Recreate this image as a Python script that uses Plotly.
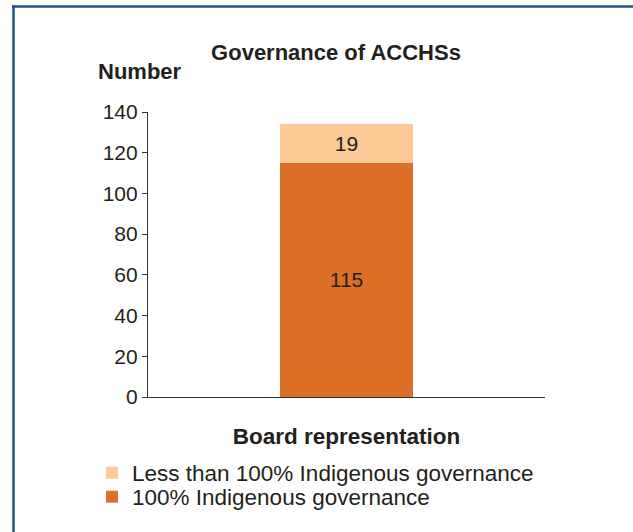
import plotly.graph_objects as go

# Governance of Aboriginal Community Controlled Health Services
category = ["Board representation"]
full_indigenous = [115]
less_than_full = [19]

series_names = ["100% Indigenous governance", "Less than 100% Indigenous governance"]
y_ticks = [0, 20, 40, 60, 80, 100, 120, 140]

DARK = "#DD7029"
LIGHT = "#FDCA97"
INK = "#231F20"
FONT = "Liberation Sans, Arial, sans-serif"

W, H = 633, 532
ML, MR, MT, MB = 148, 88, 112, 135
pw, ph = W - ML - MR, H - MT - MB


def px_x(p):
    return (p - ML) / pw


def px_y(p):
    return (H - MB - p) / ph


fig = go.Figure()
fig.add_trace(go.Bar(
    x=category, y=full_indigenous, name=series_names[0], legend="legend2",
    marker=dict(color=DARK, line=dict(width=0)),
    text=[str(v) for v in full_indigenous], textposition="inside",
    insidetextanchor="middle", textfont=dict(size=21, color=INK, family=FONT),
))
fig.add_trace(go.Bar(
    x=category, y=less_than_full, name=series_names[1], legend="legend",
    marker=dict(color=LIGHT, line=dict(width=0)),
    text=[str(v) for v in less_than_full], textposition="inside",
    insidetextanchor="middle", textfont=dict(size=21, color=INK, family=FONT),
))

legend_common = dict(x=px_x(92), xanchor="left", yanchor="middle",
                     font=dict(size=22.5, color=INK, family=FONT),
                     bgcolor="rgba(0,0,0,0)", itemclick=False,
                     itemdoubleclick=False)

fig.update_layout(
    width=W, height=H,
    margin=dict(l=ML, r=MR, t=MT, b=MB, pad=0, autoexpand=False),
    barmode="stack", bargap=0.665,
    paper_bgcolor="white", plot_bgcolor="white",
    font=dict(family=FONT, size=21, color=INK),
    title=dict(text="<b>Governance of ACCHSs</b>", x=336 / W, xanchor="center",
               y=1 - 52 / H, yanchor="middle", font=dict(size=22, color=INK)),
    showlegend=True,
    legend=dict(y=px_y(473), **legend_common),
    legend2=dict(y=px_y(497), **legend_common),
    uniformtext=dict(minsize=8, mode="show"),
)

fig.update_xaxes(
    showline=True, linecolor="#333333", linewidth=1.2,
    showticklabels=False, ticks="", showgrid=False, zeroline=False,
    title=dict(text="<b>Board representation</b>", standoff=31,
               font=dict(size=22.5, color=INK)),
)
fig.update_yaxes(
    range=[0, 140], tickvals=y_ticks, showline=True, linecolor="#333333",
    linewidth=1.2, ticks="outside", ticklen=5, tickcolor="#333333",
    showgrid=False, zeroline=False, tickfont=dict(size=21, color=INK),
)

# Axis heading above the value axis
fig.add_annotation(text="<b>Number</b>", xref="paper", yref="paper",
                   x=px_x(140), y=px_y(71), xanchor="center", yanchor="middle",
                   showarrow=False, font=dict(size=22, color=INK))

# Blue frame along the top and left of the panel
BLUE = "#21508F"
fig.add_shape(type="line", xref="paper", yref="paper",
              x0=px_x(12), x1=px_x(W + 2), y0=px_y(6.5), y1=px_y(6.5),
              line=dict(color=BLUE, width=2.5))
fig.add_shape(type="line", xref="paper", yref="paper",
              x0=px_x(13.5), x1=px_x(13.5), y0=px_y(5.5), y1=px_y(H + 2),
              line=dict(color=BLUE, width=2.5))

fig.write_html("out.html")
